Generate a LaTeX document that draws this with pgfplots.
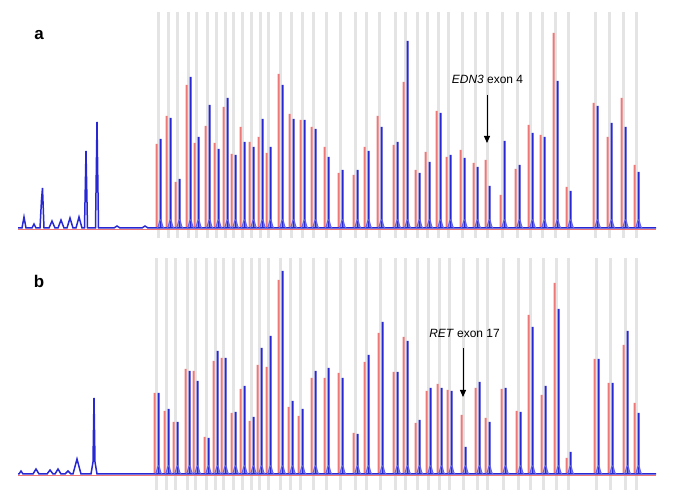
\documentclass[border=0pt]{standalone}
\usepackage{fontspec}
\setmainfont{Liberation Sans}
\usepackage{pgfplots}
\pgfplotsset{compat=1.18}
\usepackage{pgfplotstable}
\usetikzlibrary{arrows.meta}

\definecolor{bandgray}{RGB}{228,228,228}
\definecolor{peakred}{RGB}{238,120,120}
\definecolor{peakblue}{RGB}{40,40,210}
\definecolor{humpblue}{RGB}{95,95,235}

% small foot at the base of each blue peak
\pgfdeclareplotmark{hump}{%
  \pgfpathmoveto{\pgfpoint{-3.5bp}{0bp}}%
  \pgfpathcurveto{\pgfpoint{-1.6bp}{0bp}}{\pgfpoint{-1.6bp}{8bp}}{\pgfpoint{0bp}{8bp}}%
  \pgfpathcurveto{\pgfpoint{1.6bp}{8bp}}{\pgfpoint{1.6bp}{0bp}}{\pgfpoint{3.5bp}{0bp}}%
  \pgfusepathqstroke}

% peak heights above baseline (px): red x, red height, blue x, blue height
\pgfplotstableread{
xr r xb b z
156.5 84 160.5 89 0
166.5 112 170.5 110 0
175.5 46 179.5 49 0
186.5 143 190.5 151 0
194.5 85 198.5 91 0
205.5 102 209.5 123 0
214.5 85 218.5 79 0
223.5 121 227.5 130 0
231.5 74 235.5 73 0
240.5 101 244.5 86 0
249.5 86 253.5 81 0
258.5 91 262.5 109 0
266.5 75 270.5 81 0
278.5 154 282.5 143 0
289.5 114 293.5 109 0
300.5 108 304.5 108 0
311.5 101 315.5 99 0
324.5 81 328.5 71 0
338.5 55 342.5 58 0
353.5 53 357.5 58 0
364.5 81 368.5 77 0
377.5 112 381.5 101 0
393.5 83 397.5 86 0
403.5 146 407.5 187 0
415.5 58 419.5 55 0
425.5 76 429.5 66 0
436.5 117 440.5 115 0
446.5 71 450.5 73 0
460.5 78 464.5 70 0
473.5 65 477.5 61 0
485.5 68 489.5 42 0
500.5 33 504.5 87 0
515.5 59 519.5 63 0
528.5 103 532.5 95 0
540.5 93 544.5 91 0
553.5 195 557.5 147 0
566.5 41 570.5 37 0
593.5 125 597.5 122 0
607.5 91 611.5 105 0
621.5 130 625.5 101 0
634.5 63 638.5 56 0
}\peaksA

\pgfplotstableread{
xr r xb b z
154.5 81 158.5 81 0
164.5 63 168.5 65 0
173.5 52 177.5 52 0
185.5 105 189.5 103 0
193.5 103 197.5 93 0
204.5 37 208.5 36 0
213.5 113 217.5 123 0
221.5 116 225.5 116 0
231.5 61 235.5 62 0
240.5 85 244.5 88 0
249.5 53 253.5 57 0
257.5 109 261.5 126 0
266.5 107 270.5 138 0
278.5 194 282.5 203 0
288.5 67 292.5 73 0
298.5 58 302.5 65 0
311.5 96 315.5 103 0
324.5 96 328.5 106 0
338.5 101 342.5 96 0
353.5 41 357.5 40 0
364.5 112 368.5 119 0
378.5 141 382.5 152 0
393.5 102 397.5 102 0
403.5 137 407.5 133 0
415.5 51 419.5 54 0
426.5 83 430.5 86 0
437.5 90 441.5 86 0
447.5 84 451.5 83 0
461.5 59 465.5 27 0
475.5 86 479.5 92 0
485.5 56 489.5 52 0
501.5 85 505.5 86 0
516.5 63 520.5 62 0
528.5 159 532.5 147 0
541.5 79 545.5 88 0
554.5 191 558.5 165 0
566.5 16 570.5 22 0
594.5 115 598.5 115 0
608.5 91 612.5 91 0
623.5 129 627.5 143 0
634.5 71 638.5 61 0
}\peaksB

\pgfplotsset{
  panel/.style={
    anchor=south west, width=685bp, scale only axis,
    xmin=0, xmax=685, ymax=216,
    axis line style={draw=none}, ytick=\empty,
    xticklabels={}, major tick length=0pt,
    xmajorgrids, grid style={color=bandgray, line width=3bp},
    clip=false,
  },
  spike/.style={ybar, bar width=2bp, bar shift=0pt, draw=none, fill=#1},
}

\begin{document}
\begin{tikzpicture}
\path[use as bounding box] (0,0) rectangle (685bp,499bp);

% ---- panel a ----
\begin{axis}[panel, at={(0bp,261bp)}, height=226bp, ymin=-10,
  xtick={158,168,177,188,196,207,216,225,233,242,251,260,268,280,291,302,313,326,340,355,366,379,395,405,417,427,438,448,462,475,487,502,517,530,542,555,568,595,609,623,636}]
  \addplot[peakred, line width=0.8bp] coordinates {(18,-1.5)(656,-1.5)};
  \addplot[spike=peakred] table[x=xr, y=r] {\peaksA};
  \addplot[only marks, mark=hump, humpblue, line width=1bp] table[x=xb, y=z] {\peaksA};
  \addplot[spike=peakblue] table[x=xb, y=b] {\peaksA};
  \addplot[peakblue, line width=1.5bp] coordinates {
    (18,0)(22,0)(24,11)(26,0)(32,0)(34,4)(36,0)(40,0)(41.5,28)(42.5,40)(44,0)
    (49,0)(52,7)(55,0)(58,0)(61,8)(64,0)(67,0)(70,10)(73,0)(76,0)(79,11)(82,0)
    (84.5,0)(86,77)(87.5,0)(95.5,0)(97,106)(98.5,0)(114,0)(117,2)(120,0)
    (142,0)(145,2)(148,0)(656,0)};
  \node[font=\fontsize{17}{20}\selectfont\bfseries] at (axis cs:39,193) {a};
  \node[font=\fontsize{12}{14}\selectfont] at (axis cs:487.5,149) {\textit{EDN3} exon 4};
  \draw[line width=1bp, -{Triangle[length=7bp, width=6bp]}] (axis cs:487,133) -- (axis cs:487,85);
\end{axis}

% ---- panel b ----
\begin{axis}[panel, at={(0bp,9bp)}, height=232bp, ymin=-16,
  xtick={156,166,175,187,195,206,215,223,233,242,251,259,268,280,290,300,313,326,340,355,366,380,395,405,417,428,439,449,463,477,487,503,518,530,543,556,568,596,610,625,636}]
  \addplot[peakred, line width=0.8bp] coordinates {(18,-1.5)(656,-1.5)};
  \addplot[spike=peakred] table[x=xr, y=r] {\peaksB};
  \addplot[only marks, mark=hump, humpblue, line width=1bp] table[x=xb, y=z] {\peaksB};
  \addplot[spike=peakblue] table[x=xb, y=b] {\peaksB};
  \addplot[peakblue, line width=1.5bp] coordinates {
    (18,0)(19,0)(21,3)(23,0)(33,0)(36,5)(39,0)(47,0)(50,4)(53,0)(55,0)(58,5)(61,0)
    (65,0)(68,3)(71,0)(73,0)(77,15)(81,0)(91,0)(93,12)(94,76)(95,12)(97,0)(656,0)};
  \node[font=\fontsize{17}{20}\selectfont\bfseries] at (axis cs:39,193) {b};
  \node[font=\fontsize{12}{14}\selectfont] at (axis cs:464.5,141) {\textit{RET} exon 17};
  \draw[line width=1bp, -{Triangle[length=7bp, width=6bp]}] (axis cs:463,126) -- (axis cs:463,77);
\end{axis}
\end{tikzpicture}
\end{document}
